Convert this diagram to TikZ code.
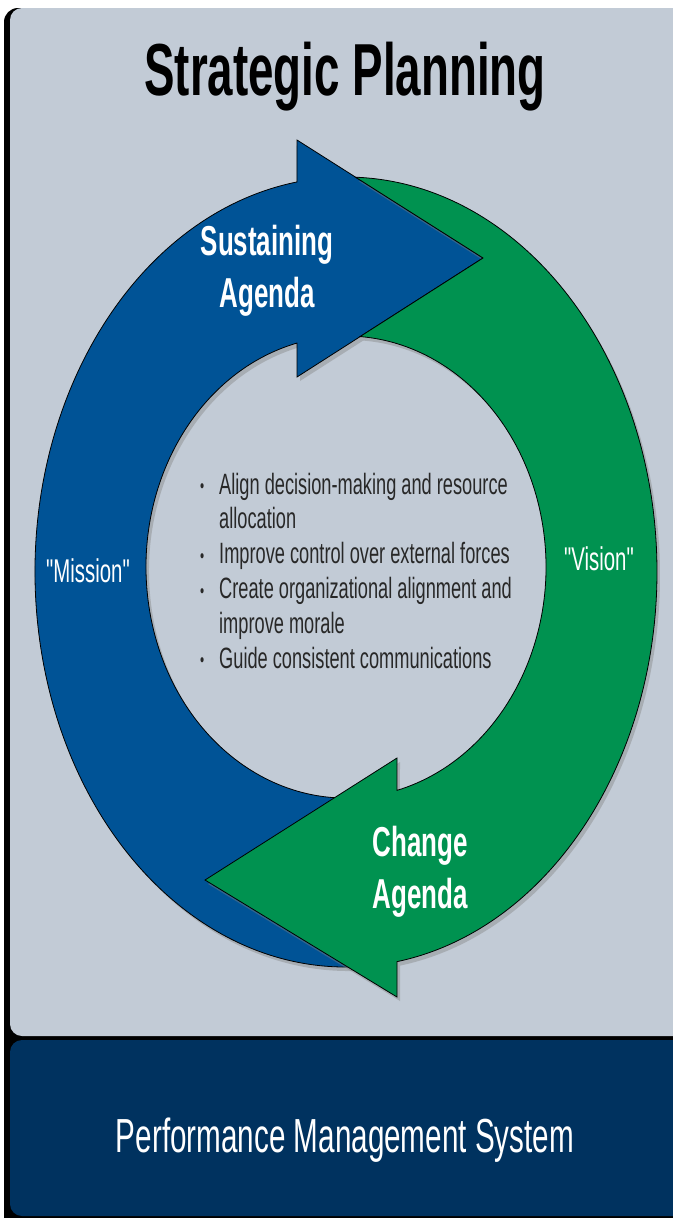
\documentclass[tikz,border=0pt]{standalone}
\usepackage{fontspec}
\setmainfont[FakeStretch=0.62]{Liberation Sans}
\newfontfamily\plainfont[FakeStretch=0.62]{Liberation Sans}
\usetikzlibrary{shadows}

\definecolor{panelgrey}{RGB}{194,203,214}
\definecolor{ringblue}{RGB}{0,83,150}
\definecolor{ringgreen}{RGB}{0,146,80}
\definecolor{pmsnavy}{RGB}{0,50,95}
\definecolor{pointgrey}{RGB}{40,40,40}
\newcommand{\bpt}{\makebox[19bp][l]{\raisebox{1.5bp}{\fontsize{19}{19}\selectfont\textbullet}}}

\begin{document}
\begin{tikzpicture}[x=1bp,y=-1bp,
    band/.style={draw=black,line width=0.8bp,
      drop shadow={opacity=0.4,shadow xshift=3bp,shadow yshift=-4bp}},
    agenda/.style={text=white,font=\bfseries\fontsize{42}{52}\selectfont,align=center,inner sep=0pt},
    ringlabel/.style={text=white,font=\plainfont\fontsize{33}{33}\selectfont,inner sep=0pt,anchor=base}]
    \useasboundingbox (0,0) rectangle (673,1218);
    \clip (0,0) rectangle (673,1218);
    \fill[white] (0,0) rectangle (673,1218);
    % panels
    \fill[black,rounded corners=14bp] (4,8) rectangle (720,1260);
    \fill[panelgrey,rounded corners=12bp] (10,8) rectangle (720,1036);
    \fill[pmsnavy,rounded corners=12bp] (10,1040) rectangle (720,1216);
    % sustaining agenda (blue half)
    \draw[band,fill=ringblue] ({346+311*cos(260.93)},{572+395*sin(260.93)})
      arc[start angle=260.93,end angle=85,x radius=311,y radius=395]
      -- ({346+200*cos(80)},{567+231*sin(80)})
      arc[start angle=80,end angle=255.82,x radius=200,y radius=231]
      -- (297,377) -- (483,258) -- (297,140) -- cycle;
    % change agenda (green half)
    \draw[band,fill=ringgreen] ({346+311*cos(271.77)},{572+395*sin(271.77)})
      arc[start angle=271.77,end angle=440.56,x radius=311,y radius=395]
      -- (397,997) -- (205,880) -- (397,758)
      -- ({346+200*cos(75.23)},{567+231*sin(75.23)})
      arc[start angle=435.23,end angle=274.04,x radius=200,y radius=231]
      -- (483,258) -- cycle;
    % texts
    \node[font=\bfseries\fontsize{74}{74}\selectfont,anchor=base,inner sep=0pt] (title) at (345,95) {Strategic Planning};
    \node[agenda] (sustain) at (267,271) {Sustaining\\Agenda};
    \node[agenda] (change) at (420,872) {Change\\Agenda};
    \node[ringlabel] (mission) at (88,582) {"Mission"};
    \node[ringlabel] (vision) at (599,570) {"Vision"};
    \node[text=pointgrey,font=\fontsize{29.5}{35}\selectfont,anchor=base west,inner sep=0pt] (points) at (200,494)
      {\begin{tabular}[t]{@{}l@{}l@{}}
        \bpt & Align decision-making and resource\\
             & allocation\\
        \bpt & Improve control over external forces\\
        \bpt & Create organizational alignment and\\
             & improve morale\\
        \bpt & Guide consistent communications
      \end{tabular}};
    \node[text=white,font=\fontsize{48}{48}\selectfont,anchor=base,inner sep=0pt] (pms) at (345,1152) {Performance Management System};
\end{tikzpicture}
\end{document}
